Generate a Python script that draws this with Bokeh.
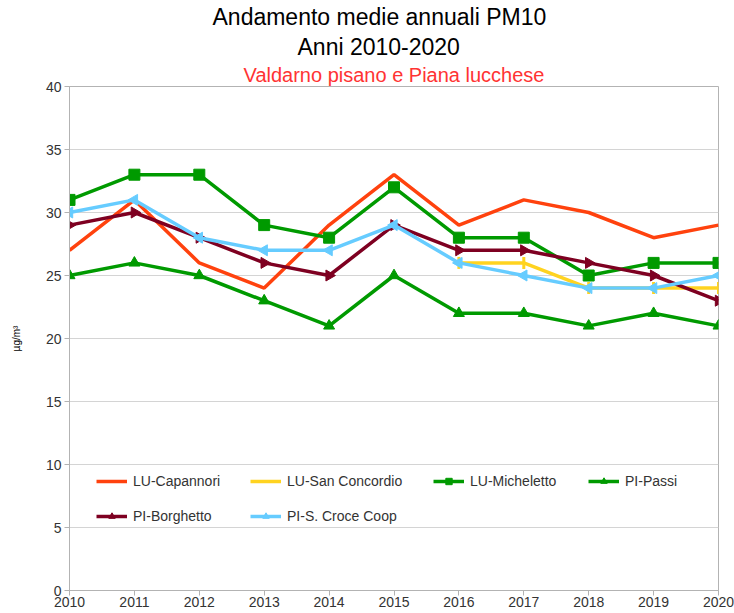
import math
from bokeh.plotting import figure
from bokeh.models import Title, Legend, LegendItem, FixedTicker, Range1d
from bokeh.embed import file_html
from bokeh.resources import INLINE

years = [2010, 2011, 2012, 2013, 2014, 2015, 2016, 2017, 2018, 2019, 2020]
nan = float("nan")
lu_capannori = [27, 31, 26, 24, 29, 33, 29, 31, 30, 28, 29]
lu_san_concordio = [nan, nan, nan, nan, nan, nan, 26, 26, 24, 24, 24]
lu_micheletto = [31, 33, 33, 29, 28, 32, 28, 28, 25, 26, 26]
pi_passi = [25, 26, 25, 23, 21, 25, 22, 22, 21, 22, 21]
pi_borghetto = [29, 30, 28, 26, 25, 29, 27, 27, 26, 25, 23]
pi_s_croce = [30, 31, 28, 27, 27, 29, 26, 25, 24, 24, 25]
y_ticks = [0, 5, 10, 15, 20, 25, 30, 35, 40]

FONT = "Liberation Sans"
GRID = "#d4d4d4"
AXIS = "#b3b3b3"
TXT = "#333333"

p = figure(width=734, height=613, x_range=Range1d(2010, 2020), y_range=Range1d(0, 40),
           output_backend="svg", toolbar_location=None,
           min_border_left=69, min_border_right=16, min_border_bottom=23, min_border_top=86)

# outermost title
p.title.text = "Andamento medie annuali PM10"
p.title.text_color = "#000000"
p.title.text_font = FONT
p.title.text_font_size = "23px"
p.title.text_font_style = "normal"
p.title.align = "left"
p.title.offset = 143
p.title.standoff = 2
# nearest to the plot first
p.add_layout(Title(text="Valdarno pisano e Piana lucchese", align="center", text_font=FONT,
                   text_font_size="20px", text_font_style="normal", text_color="#ff3333",
                   standoff=1), "above")
p.add_layout(Title(text="Anni 2010-2020", align="left", offset=228, text_font=FONT,
                   text_font_size="23px", text_font_style="normal", text_color="#000000",
                   standoff=3), "above")

p.outline_line_color = AXIS
p.xgrid.grid_line_color = None
p.ygrid.grid_line_color = GRID
p.ygrid.ticker = FixedTicker(ticks=y_ticks)

p.xaxis.ticker = FixedTicker(ticks=years)
p.yaxis.ticker = FixedTicker(ticks=y_ticks)
for ax in (p.xaxis, p.yaxis):
    ax.axis_line_color = AXIS
    ax.major_tick_line_color = AXIS
    ax.minor_tick_line_color = None
    ax.major_tick_in = 0
    ax.major_tick_out = 5
    ax.major_label_text_font = FONT
    ax.major_label_text_font_size = "14px"
    ax.major_label_text_color = TXT
p.xaxis.major_label_standoff = 1
p.yaxis.major_label_standoff = 3
p.yaxis.axis_label = "µg/m³"
p.yaxis.axis_label_text_font = FONT
p.yaxis.axis_label_text_font_size = "10px"
p.yaxis.axis_label_text_font_style = "normal"
p.yaxis.axis_label_text_color = "#000000"
p.yaxis.axis_label_standoff = 21

LW = 3.5
items = []

r = p.line(years, lu_capannori, line_color="#ff420e", line_width=LW)
items.append(("LU-Capannori", [r]))

c = "#ffd320"
r1 = p.line(years, lu_san_concordio, line_color=c, line_width=LW)
r2 = p.scatter(years, lu_san_concordio, marker="dash", angle=math.pi / 2, size=12,
               line_color=c, line_width=3)
items.append(("LU-San Concordio", [r1, r2]))

c = "#009a00"
r1 = p.line(years, lu_micheletto, line_color=c, line_width=LW)
r2 = p.scatter(years, lu_micheletto, marker="square", size=11, fill_color=c, line_color=c)
items.append(("LU-Micheletto", [r1, r2]))

r1 = p.line(years, pi_passi, line_color=c, line_width=LW)
r2 = p.scatter(years, pi_passi, marker="triangle", size=11, fill_color=c, line_color=c)
items.append(("PI-Passi", [r1, r2]))

c = "#7e0021"
r1 = p.line(years, pi_borghetto, line_color=c, line_width=LW)
r2 = p.scatter(years, pi_borghetto, marker="triangle", angle=-math.pi / 2, size=11,
               fill_color=c, line_color=c)
items.append(("PI-Borghetto", [r1, r2]))

c = "#66ccff"
r1 = p.line(years, pi_s_croce, line_color=c, line_width=LW)
r2 = p.scatter(years, pi_s_croce, marker="triangle", angle=math.pi / 2, size=11,
               fill_color=c, line_color=c)
items.append(("PI-S. Croce Coop", [r1, r2]))

positions = [(27, 101), (181, 101), (364, 101), (519, 101), (27, 66), (181, 66)]
for (label, rs), loc in zip(items, positions):
    lg = Legend(items=[LegendItem(label=label, renderers=rs)], location=loc,
                padding=0, margin=0, spacing=0, border_line_alpha=0,
                background_fill_alpha=0, glyph_width=31, glyph_height=16,
                label_standoff=6, label_height=16,
                label_text_font=FONT, label_text_font_size="14px", label_text_color=TXT)
    p.add_layout(lg, "center")

open("out.html", "w").write(file_html(p, INLINE))
